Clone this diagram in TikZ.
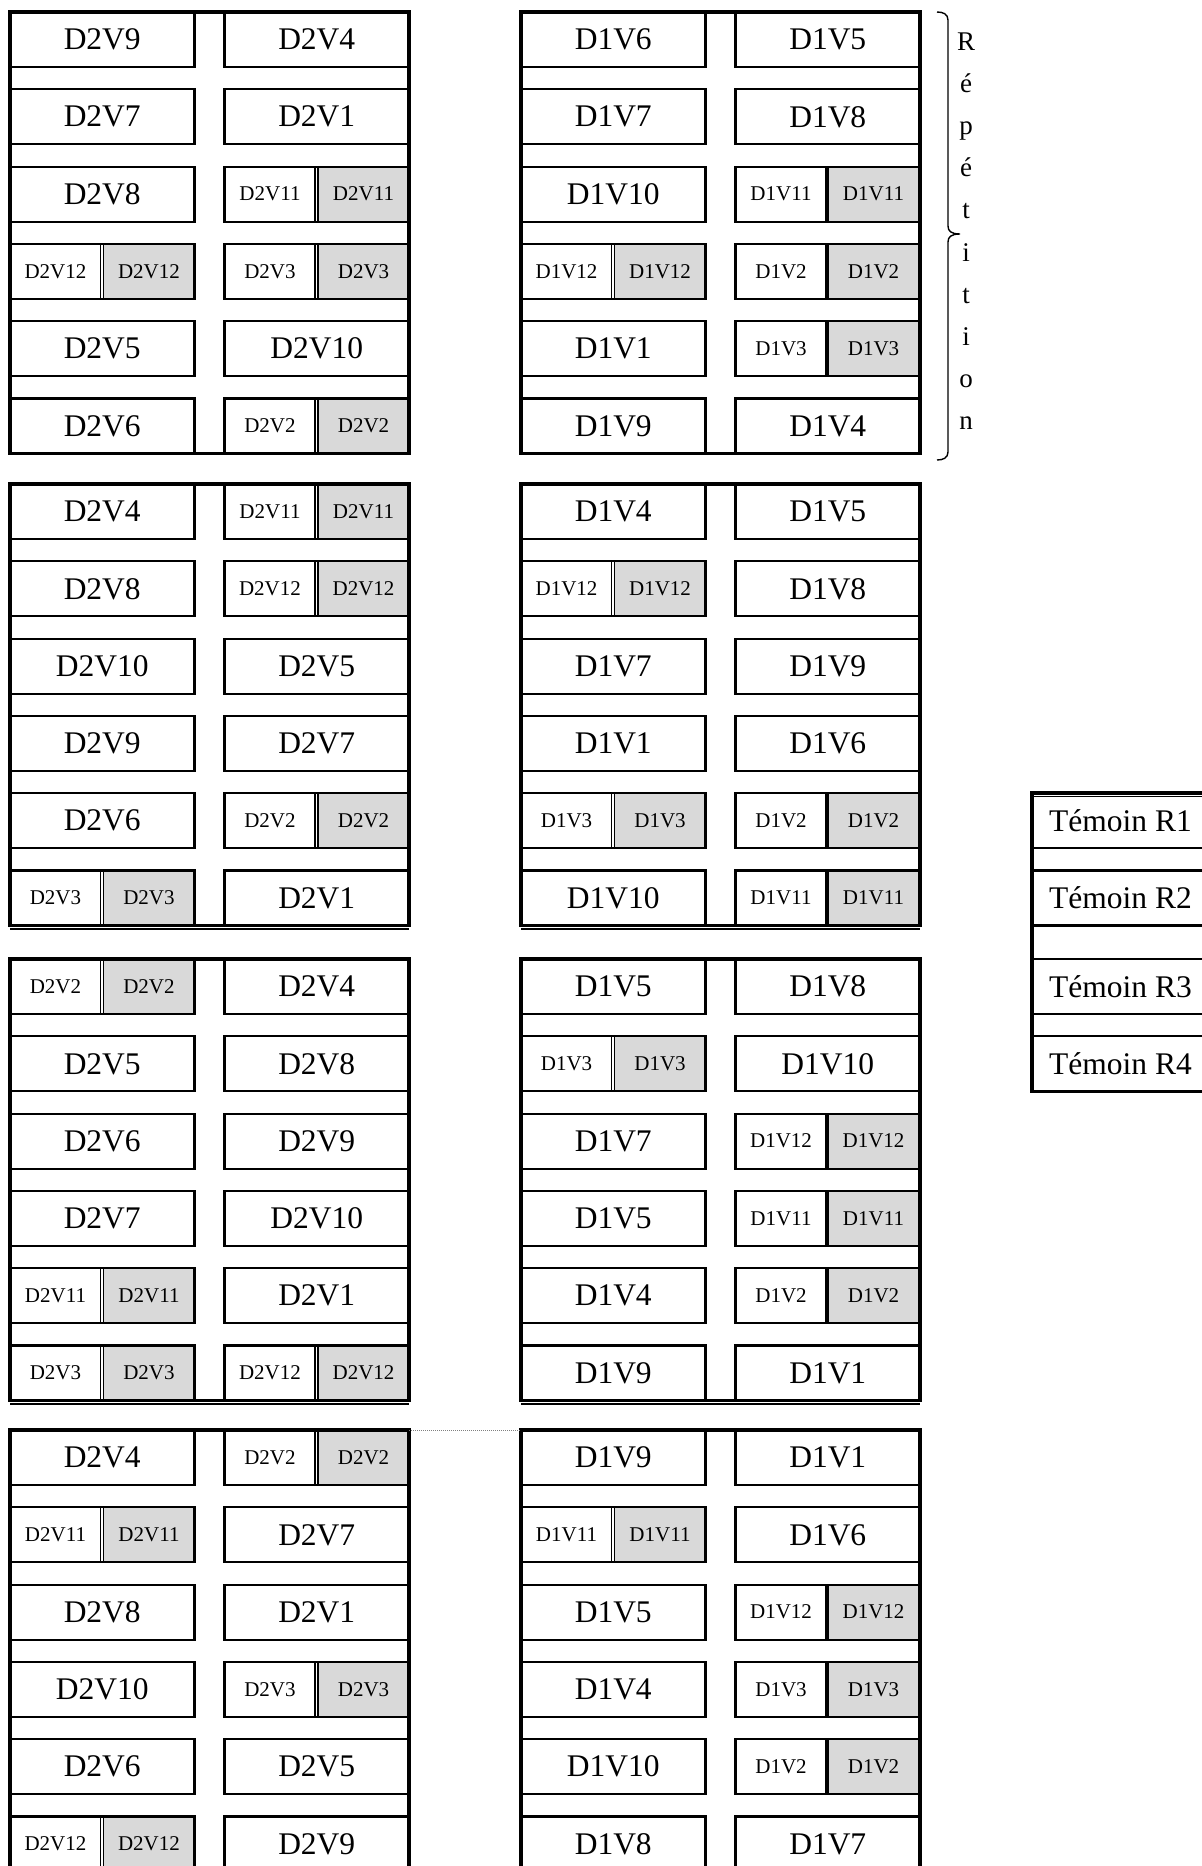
\documentclass[tikz,border=0pt]{standalone}
\usepackage{fontspec}
\setmainfont{Liberation Serif}
\definecolor{cellgray}{RGB}{217,217,217}
\tikzset{
  cellbox/.style={draw, line width=2.2pt, minimum width=184.5pt, minimum height=55pt, inner sep=0pt, outer sep=0pt},
  bigtext/.style={font=\fontsize{31.5}{36}\selectfont, inner sep=0pt},
  smalltext/.style={font=\fontsize{21}{24}\selectfont, inner sep=0pt},
  lettertext/.style={font=\fontsize{27}{32}\selectfont, inner sep=0pt, anchor=base},
  sepline/.style={line width=1.3pt},
  thicksep/.style={line width=3.2pt},
  framebox/.style={draw, line width=3.5pt, minimum width=399pt, minimum height=441.5pt, inner sep=0pt, outer sep=0pt, anchor=north west},
  thinline/.style={line width=1.2pt},
  dotline/.style={gray, line width=0.8pt, dash pattern=on 1pt off 1pt},
  bracepen/.style={line width=1.4pt}
}
% full cell
\newcommand{\mycellf}[4]{%
  \node[cellbox, bigtext, anchor=north west] (#1) at (#2,#3) {#4};}
% split cell, double separator
\newcommand{\mycelld}[4]{%
  \fill[cellgray] (#2+93.5,#3) rectangle (#2+184.5,#3+55);
  \node[cellbox, anchor=north west] (#1) at (#2,#3) {};
  \draw[sepline] (#2+90.5,#3) -- (#2+90.5,#3+55);
  \draw[sepline] (#2+93.5,#3) -- (#2+93.5,#3+55);
  \node[smalltext] (#1w) at (#2+45.5,#3+27.5) {#4};
  \node[smalltext] (#1g) at (#2+139,#3+27.5) {#4};}
% split cell, single thick separator
\newcommand{\mycells}[4]{%
  \fill[cellgray] (#2+91.5,#3) rectangle (#2+184.5,#3+55);
  \node[cellbox, anchor=north west] (#1) at (#2,#3) {};
  \draw[thicksep] (#2+91.5,#3) -- (#2+91.5,#3+55);
  \node[smalltext] (#1w) at (#2+45.5,#3+27.5) {#4};
  \node[smalltext] (#1g) at (#2+138,#3+27.5) {#4};}
\newcommand{\cellany}[5]{\csname mycell#4\endcsname{#1}{#2}{#3}{#5}}
\newcommand{\blockhalf}[4]{%
  \foreach \ta/\xa/\tb/\xb [count=\r from 0] in {#4} {
    \pgfmathsetmacro\tp{#3+\r*77.3}
    \cellany{#1-\r-a}{#2}{\tp}{\ta}{\xa}
    \cellany{#1-\r-b}{#2+214.5}{\tp}{\tb}{\xb}
  }
  \node[framebox] (fr#1) at (#2,#3) {};
}
\begin{document}
\begin{tikzpicture}[x=1pt, y=-1pt]
\useasboundingbox (0,0) rectangle (1202,1866);
\fill[white] (0,0) rectangle (1202,1866);
\clip (0,0) rectangle (1202,1866);

% Block A
\blockhalf{AL}{10}{12}{f/D2V9/f/D2V4, f/D2V7/f/D2V1, f/D2V8/d/D2V11, d/D2V12/d/D2V3, f/D2V5/f/D2V10, f/D2V6/d/D2V2}
\blockhalf{AR}{521}{12}{f/D1V6/f/D1V5, f/D1V7/f/D1V8, f/D1V10/s/D1V11, d/D1V12/s/D1V2, f/D1V1/s/D1V3, f/D1V9/f/D1V4}
% Block B
\blockhalf{BL}{10}{484}{f/D2V4/d/D2V11, f/D2V8/d/D2V12, f/D2V10/f/D2V5, f/D2V9/f/D2V7, f/D2V6/d/D2V2, d/D2V3/f/D2V1}
\blockhalf{BR}{521}{484}{f/D1V4/f/D1V5, d/D1V12/f/D1V8, f/D1V7/f/D1V9, f/D1V1/f/D1V6, d/D1V3/s/D1V2, f/D1V10/s/D1V11}
% Block C
\blockhalf{CL}{10}{959}{d/D2V2/f/D2V4, f/D2V5/f/D2V8, f/D2V6/f/D2V9, f/D2V7/f/D2V10, d/D2V11/f/D2V1, d/D2V3/d/D2V12}
\blockhalf{CR}{521}{959}{f/D1V5/f/D1V8, d/D1V3/f/D1V10, f/D1V7/s/D1V12, f/D1V5/s/D1V11, f/D1V4/s/D1V2, f/D1V9/f/D1V1}
% Block D
\blockhalf{DL}{10}{1430}{f/D2V4/d/D2V2, d/D2V11/f/D2V7, f/D2V8/f/D2V1, f/D2V10/d/D2V3, f/D2V6/f/D2V5, d/D2V12/f/D2V9}
\blockhalf{DR}{521}{1430}{f/D1V9/f/D1V1, d/D1V11/f/D1V6, f/D1V5/s/D1V12, f/D1V4/s/D1V3, f/D1V10/s/D1V2, f/D1V8/f/D1V7}

% double lines under blocks B and C
\foreach \f in {BL,BR,CL,CR}
  \draw[thinline] ([yshift=-3.5pt]fr\f.south west) -- ([yshift=-3.5pt]fr\f.south east);

% dotted line between the D blocks
\draw[dotline] (frDL.north east) -- (frDR.north west);

% Témoin block
\foreach \tq/\lab [count=\i] in {793.2/R1, 870.5/R2, 959/R3, 1036.3/R4} {
  \node[cellbox, minimum width=260pt, anchor=north west] (tem\i) at (1032,\tq) {};
  \node[bigtext, anchor=west] (temt\i) at (1049,\tq+27.5) {Témoin \lab};
}
\node[draw, line width=3.5pt, minimum width=300pt, minimum height=298.1pt, anchor=north west, inner sep=0pt, outer sep=0pt] (temframe) at (1032,793.2) {};
\draw[thinline] ([yshift=-3.5pt]temframe.north west) -- ++(200,0);

% brace and vertical word
\coordinate (brtop) at (937,12);
\coordinate (brtip) at (960,234);
\coordinate (brbot) at (937,460);
\draw[bracepen] (brtop) .. controls (943,12) and (948,14) .. (948,20) -- (948,226)
  .. controls (948,231) and (951,234) .. (brtip)
  .. controls (951,234) and (948,237) .. (948,242) -- (948,452)
  .. controls (948,458) and (943,460) .. (brbot);
\foreach \l [count=\i from 0] in {R,é,p,é,t,i,t,i,o,n}
  \node[lettertext] (rep\i) at (966,50+\i*42.2) {\l};
\end{tikzpicture}
\end{document}
